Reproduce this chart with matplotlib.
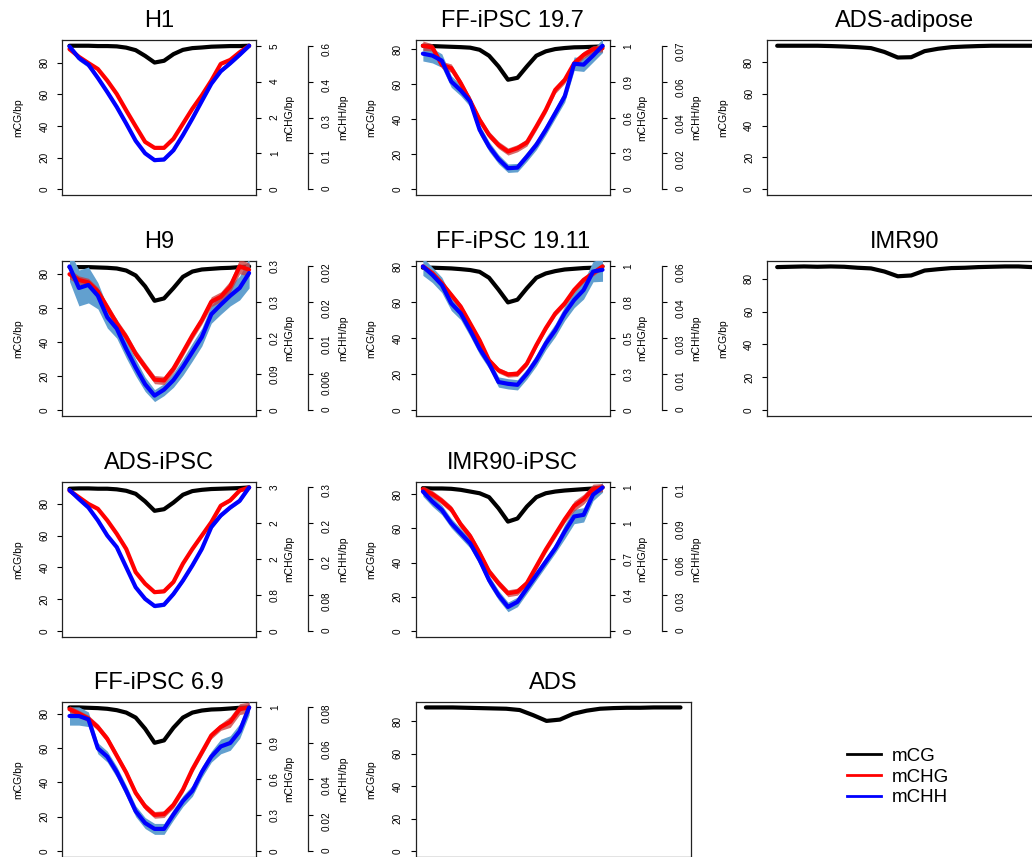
import numpy as np
import matplotlib
matplotlib.use('Agg')
import matplotlib.pyplot as plt
from matplotlib.lines import Line2D
from matplotlib.transforms import offset_copy

plt.rcParams['font.family'] = ['Liberation Sans', 'DejaVu Sans']

# 20 bins across the region
bins = np.arange(20)
cg_ticks = [0, 20, 40, 60, 80]

# H1
h1_cg = [90.6, 90.6, 90.6, 90.4, 90.4, 90.2, 89.4, 87.8, 84.2, 80.0, 81.1, 85.3, 88.0, 89.1, 89.5, 90.0, 90.2, 90.4, 90.4, 90.6]
h1_chg = [4.94, 4.67, 4.45, 4.24, 3.83, 3.36, 2.78, 2.22, 1.67, 1.46, 1.46, 1.78, 2.31, 2.84, 3.31, 3.83, 4.42, 4.56, 4.83, 5.06]
h1_chh = [0.604, 0.555, 0.527, 0.471, 0.411, 0.348, 0.278, 0.205, 0.152, 0.123, 0.126, 0.165, 0.229, 0.299, 0.373, 0.446, 0.499, 0.533, 0.569, 0.607]
h1_chg_err = [0.04] * 20
h1_chh_err = [0.008, 0.012, 0.012, 0.008, 0.006, 0.006, 0.006, 0.006, 0.006, 0.006, 0.006, 0.006, 0.006, 0.006, 0.006, 0.006, 0.006, 0.008, 0.008, 0.008]
h1_chg_labels = ['0', '1', '2', '4', '5']
h1_chh_labels = ['0', '0.1', '0.3', '0.4', '0.6']

# FF-iPSC 19.7
ff197_cg = [81.9, 81.7, 81.5, 81.3, 81.1, 80.8, 79.6, 76.2, 70.1, 62.5, 63.6, 70.1, 76.2, 78.7, 80.0, 80.6, 81.0, 81.1, 81.3, 81.5]
ff197_chg = [1.206, 1.192, 1.045, 1.018, 0.892, 0.743, 0.583, 0.457, 0.372, 0.317, 0.345, 0.393, 0.527, 0.667, 0.835, 0.919, 1.059, 1.129, 1.177, 1.185]
ff197_chh = [0.0702, 0.0692, 0.0666, 0.0558, 0.0512, 0.0455, 0.0308, 0.0221, 0.0156, 0.0109, 0.0112, 0.0169, 0.0230, 0.0308, 0.0394, 0.0481, 0.0650, 0.0645, 0.0692, 0.0743]
ff197_chg_err = [0.04, 0.03, 0.03, 0.035, 0.03, 0.03, 0.03, 0.03, 0.03, 0.03, 0.03, 0.03, 0.03, 0.03, 0.03, 0.03, 0.03, 0.03, 0.03, 0.03]
ff197_chh_err = [0.0038, 0.0038, 0.0035, 0.003, 0.0028, 0.0027, 0.0026, 0.0025, 0.0024, 0.0022, 0.0022, 0.0024, 0.0025, 0.0026, 0.0027, 0.003, 0.0035, 0.0035, 0.0033, 0.0035]
ff197_chg_labels = ['0', '0.3', '0.6', '0.9', '1']
ff197_chh_labels = ['0', '0.02', '0.04', '0.06', '0.07']

# H9
h9_cg = [84.0, 84.0, 84.0, 83.8, 83.6, 83.2, 82.0, 79.1, 72.7, 64.2, 65.6, 71.7, 78.3, 81.4, 82.6, 83.0, 83.4, 83.6, 84.0, 84.4]
h9_chg = [0.331, 0.317, 0.311, 0.289, 0.250, 0.211, 0.178, 0.137, 0.105, 0.074, 0.072, 0.101, 0.141, 0.182, 0.219, 0.264, 0.276, 0.301, 0.350, 0.342]
h9_chh = [0.0240, 0.0204, 0.0209, 0.0191, 0.0155, 0.0136, 0.0102, 0.0071, 0.0043, 0.0024, 0.0034, 0.0050, 0.0072, 0.0097, 0.0122, 0.0160, 0.0176, 0.0191, 0.0204, 0.0229]
h9_chg_err = [0.012, 0.010, 0.010, 0.010, 0.010, 0.010, 0.010, 0.010, 0.010, 0.010, 0.010, 0.010, 0.010, 0.010, 0.010, 0.012, 0.012, 0.014, 0.018, 0.016]
h9_chh_err = [0.0025, 0.0030, 0.0030, 0.0022, 0.0018, 0.0016, 0.0015, 0.0014, 0.0012, 0.0010, 0.0010, 0.0012, 0.0014, 0.0015, 0.0015, 0.0015, 0.0016, 0.0017, 0.0020, 0.0025]
h9_chg_labels = ['0', '0.09', '0.2', '0.3', '0.3']
h9_chh_labels = ['0', '0.006', '0.01', '0.02', '0.02']

# FF-iPSC 19.11
ff1911_cg = [79.1, 79.1, 78.9, 78.7, 78.3, 77.8, 76.8, 73.5, 66.9, 59.8, 61.3, 67.7, 73.5, 75.9, 77.2, 78.1, 78.5, 78.9, 79.1, 79.8]
ff1911_chg = [1.050, 1.001, 0.928, 0.842, 0.756, 0.633, 0.510, 0.363, 0.290, 0.260, 0.265, 0.339, 0.474, 0.598, 0.706, 0.780, 0.878, 0.952, 1.001, 1.050]
ff1911_chh = [0.0560, 0.0527, 0.0488, 0.0416, 0.0377, 0.0311, 0.0239, 0.0181, 0.0109, 0.0102, 0.0098, 0.0141, 0.0194, 0.0259, 0.0311, 0.0377, 0.0429, 0.0468, 0.0540, 0.0547]
ff1911_chg_err = [0.02] * 20
ff1911_chh_err = [0.0035, 0.003, 0.003, 0.0028, 0.0025, 0.0024, 0.0022, 0.002, 0.002, 0.002, 0.002, 0.002, 0.0022, 0.0024, 0.0025, 0.0028, 0.003, 0.0035, 0.004, 0.0045]
ff1911_chg_labels = ['0', '0.3', '0.5', '0.8', '1']
ff1911_chh_labels = ['0', '0.01', '0.03', '0.04', '0.06']

# ADS-iPSC
adsi_cg = [89.5, 89.7, 89.7, 89.5, 89.5, 89.1, 88.2, 86.3, 81.5, 75.6, 76.6, 80.8, 85.7, 88.0, 88.8, 89.3, 89.5, 89.7, 89.9, 90.3]
adsi_chg = [3.15, 3.00, 2.85, 2.74, 2.48, 2.18, 1.84, 1.32, 1.06, 0.87, 0.89, 1.10, 1.51, 1.84, 2.14, 2.44, 2.81, 2.93, 3.15, 3.22]
adsi_chh = [0.316, 0.296, 0.277, 0.248, 0.214, 0.188, 0.143, 0.098, 0.072, 0.056, 0.059, 0.083, 0.113, 0.147, 0.184, 0.233, 0.259, 0.277, 0.292, 0.322]
adsi_chg_err = [0.03] * 20
adsi_chh_err = [0.004] * 20
adsi_chg_labels = ['0', '0.8', '2', '2', '3']
adsi_chh_labels = ['0', '0.08', '0.2', '0.2', '0.3']

# IMR90-iPSC
imri_cg = [83.6, 83.4, 83.4, 83.2, 82.6, 81.6, 80.6, 78.3, 71.8, 64.0, 65.8, 72.8, 78.3, 80.6, 81.6, 82.2, 82.6, 83.0, 83.4, 84.0]
imri_chg = [1.426, 1.376, 1.308, 1.224, 1.071, 0.953, 0.784, 0.598, 0.480, 0.379, 0.395, 0.480, 0.649, 0.818, 0.970, 1.122, 1.257, 1.325, 1.426, 1.443]
imri_chh = [0.1166, 0.1082, 0.1012, 0.0901, 0.0817, 0.0733, 0.0593, 0.0425, 0.0299, 0.0201, 0.0243, 0.0355, 0.0467, 0.0579, 0.0691, 0.0831, 0.0957, 0.0971, 0.1139, 0.1200]
imri_chg_err = [0.035] * 16 + [0.05, 0.05, 0.05, 0.04]
imri_chh_err = [0.004] * 15 + [0.006, 0.006, 0.006, 0.005, 0.004]
imri_chg_labels = ['0', '0.4', '0.7', '1', '1']
imri_chh_labels = ['0', '0.03', '0.06', '0.09', '0.1']

# FF-iPSC 6.9
ff69_cg = [83.6, 83.6, 83.4, 83.2, 82.8, 82.0, 80.6, 77.7, 71.2, 63.0, 64.4, 71.8, 77.7, 80.6, 81.8, 82.4, 82.6, 83.0, 83.4, 83.6]
ff69_chg = [1.175, 1.138, 1.096, 1.026, 0.929, 0.789, 0.649, 0.481, 0.369, 0.299, 0.305, 0.383, 0.509, 0.677, 0.817, 0.957, 1.027, 1.069, 1.175, 1.189]
ff69_chh = [0.0740, 0.0740, 0.0722, 0.0563, 0.0517, 0.0433, 0.0330, 0.0218, 0.0153, 0.0121, 0.0121, 0.0200, 0.0274, 0.0330, 0.0433, 0.0517, 0.0573, 0.0592, 0.0657, 0.0787]
ff69_chg_err = [0.028] * 17 + [0.045, 0.045, 0.045]
ff69_chh_err = [0.005, 0.005, 0.004] + [0.003] * 13 + [0.004, 0.004, 0.004, 0.004]
ff69_chg_labels = ['0', '0.3', '0.6', '0.9', '1']
ff69_chh_labels = ['0', '0.02', '0.04', '0.06', '0.08']

# tissues with mCG only
adip_cg = [90.2, 90.2, 90.2, 90.2, 90.0, 89.7, 89.3, 88.7, 86.3, 82.8, 83.0, 86.8, 88.3, 89.3, 89.7, 90.0, 90.2, 90.2, 90.2, 90.2]
imr90_cg = [87.2, 87.4, 87.6, 87.4, 87.6, 87.4, 86.8, 86.4, 84.5, 81.6, 82.1, 85.1, 85.9, 86.6, 86.8, 87.2, 87.4, 87.6, 87.6, 87.2]
ads_cg = [88.5, 88.5, 88.5, 88.3, 88.1, 87.9, 87.7, 86.9, 83.75, 80.2, 81.0, 84.6, 86.5, 87.7, 88.1, 88.3, 88.3, 88.5, 88.5, 88.5]

# --- layout in pixels (figure is 1032 x 857) ---
FIG_W, FIG_H = 1032, 857
COL_X = [62.3, 415.7, 767.0]
ROW_TOP = [40.0, 260.7, 481.7, 701.7]
BOX_H = 155
NARROW_W = 194
WIDE_W = 275

BAND_BLUE = '#62a0cf'
BAND_RED = '#c83a3a'

fig = plt.figure(figsize=(FIG_W / 100, FIG_H / 100), dpi=100)


def r_ylim(ax, m):
    ax.set_ylim(-0.04 * m, 1.04 * m)


def style_yticks(ax, pad):
    ax.tick_params(axis='y', direction='out', length=3.3, width=0.8,
                   labelsize=7.2, pad=pad, labelrotation=90)
    for lbl in ax.get_yticklabels():
        lbl.set_va('center')


def side_label(ax, text, dx):
    tr = offset_copy(ax.transAxes, fig=fig, x=dx, y=0, units='dots')
    ax.text(0, 0.5, text, transform=tr, rotation=90, ha='center',
            va='center', fontsize=7.5)


def draw_panel(col, row, title, cg, chg=None, chh=None, chg_err=None,
               chh_err=None, chg_labels=None, chh_labels=None):
    wide = chg is None
    w = WIDE_W if wide else NARROW_W
    x0, top = COL_X[col], ROW_TOP[row]
    ax = fig.add_axes([x0 / FIG_W, 1 - (top + BOX_H) / FIG_H,
                       w / FIG_W, BOX_H / FIG_H])
    ax.plot(bins, cg, color='black', lw=3, solid_capstyle='round')
    ax.set_xlim(-0.76, 19.76)
    r_ylim(ax, max(cg))
    ax.set_xticks([])
    ax.set_yticks(cg_ticks)
    style_yticks(ax, 6)
    for sp in ax.spines.values():
        sp.set_linewidth(0.9)
        sp.set_color('#222222')
    ax.set_title(title, fontsize=17, pad=9.5)
    side_label(ax, 'mCG/bp', -44)
    if wide:
        return

    chg = np.array(chg)
    chh = np.array(chh)
    m_chg = chg.max()
    m_chh = chh.max()
    k = m_chg / m_chh

    # mCHG axis (right edge of box); blue band drawn here so red stays on top
    ax2 = ax.twinx()
    ax2.fill_between(bins, (chh - np.array(chh_err)) * k,
                     (chh + np.array(chh_err)) * k, color=BAND_BLUE, lw=0)
    ax2.fill_between(bins, chg - np.array(chg_err), chg + np.array(chg_err),
                     color=BAND_RED, alpha=0.75, lw=0)
    ax2.plot(bins, chg, color='red', lw=3, solid_capstyle='round')
    r_ylim(ax2, m_chg)
    ax2.set_yticks(np.linspace(0, m_chg, 5))
    ax2.set_yticklabels(chg_labels)
    style_yticks(ax2, 6.5)
    for sp in ax2.spines.values():
        sp.set_visible(False)
    side_label(ax2, 'mCHG/bp', w + 33)

    # mCHH axis, offset to the right
    ax3 = ax.twinx()
    ax3.plot(bins, chh, color='blue', lw=3, solid_capstyle='round')
    r_ylim(ax3, m_chh)
    ax3.set_yticks(np.linspace(0, m_chh, 5))
    ax3.set_yticklabels(chh_labels)
    style_yticks(ax3, 6.5)
    for name, sp in ax3.spines.items():
        sp.set_visible(name == 'right')
    ax3.spines['right'].set_position(('outward', 52 * 72 / 100))
    ax3.spines['right'].set_bounds(0, m_chh)
    ax3.spines['right'].set_linewidth(0.9)
    ax3.spines['right'].set_color('#222222')
    side_label(ax3, 'mCHH/bp', w + 87)
    ax.set_xlim(-0.76, 19.76)


draw_panel(0, 0, 'H1', h1_cg, h1_chg, h1_chh, h1_chg_err, h1_chh_err, h1_chg_labels, h1_chh_labels)
draw_panel(1, 0, 'FF-iPSC 19.7', ff197_cg, ff197_chg, ff197_chh, ff197_chg_err, ff197_chh_err, ff197_chg_labels, ff197_chh_labels)
draw_panel(2, 0, 'ADS-adipose', adip_cg)
draw_panel(0, 1, 'H9', h9_cg, h9_chg, h9_chh, h9_chg_err, h9_chh_err, h9_chg_labels, h9_chh_labels)
draw_panel(1, 1, 'FF-iPSC 19.11', ff1911_cg, ff1911_chg, ff1911_chh, ff1911_chg_err, ff1911_chh_err, ff1911_chg_labels, ff1911_chh_labels)
draw_panel(2, 1, 'IMR90', imr90_cg)
draw_panel(0, 2, 'ADS-iPSC', adsi_cg, adsi_chg, adsi_chh, adsi_chg_err, adsi_chh_err, adsi_chg_labels, adsi_chh_labels)
draw_panel(1, 2, 'IMR90-iPSC', imri_cg, imri_chg, imri_chh, imri_chg_err, imri_chh_err, imri_chg_labels, imri_chh_labels)
draw_panel(0, 3, 'FF-iPSC 6.9', ff69_cg, ff69_chg, ff69_chh, ff69_chg_err, ff69_chh_err, ff69_chg_labels, ff69_chh_labels)
draw_panel(1, 3, 'ADS', ads_cg)

handles = [Line2D([], [], color=c, lw=2) for c in ['black', 'red', 'blue']]
fig.legend(handles, ['mCG', 'mCHG', 'mCHH'], loc='center left',
           bbox_to_anchor=(847 / FIG_W, 1 - 777 / FIG_H), frameon=False,
           fontsize=13.5, handlelength=1.8, handletextpad=0.6,
           labelspacing=0.2, borderpad=0, borderaxespad=0)

fig.savefig('out.png', dpi=100)
